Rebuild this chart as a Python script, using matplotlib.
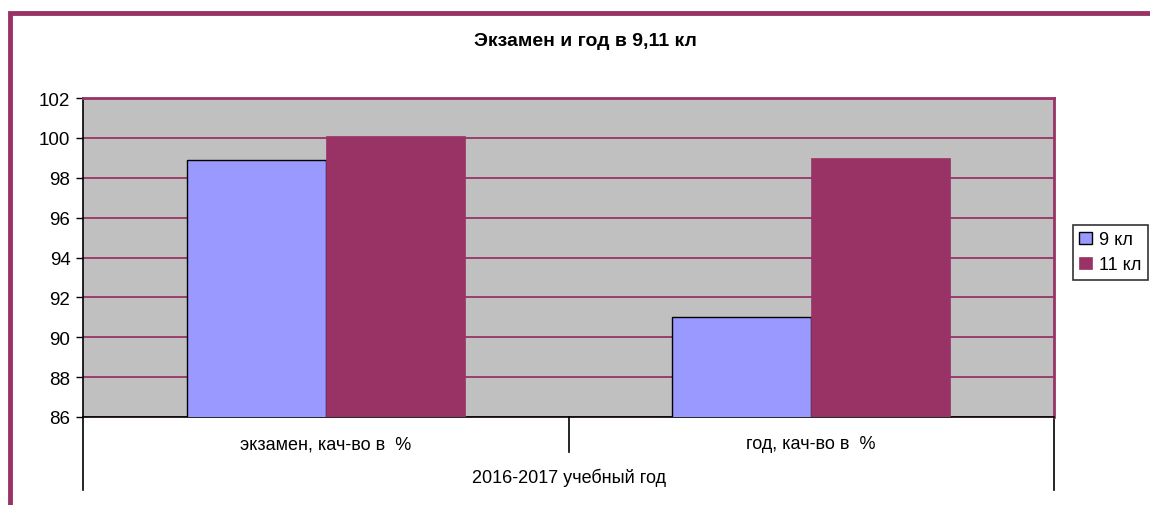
import matplotlib
matplotlib.use('Agg')
import matplotlib.pyplot as plt
from matplotlib.patches import Rectangle
from matplotlib.transforms import blended_transform_factory
import numpy as np

plt.rcParams['font.family'] = ['Liberation Sans', 'DejaVu Sans']

# data
categories = ['экзамен, кач-во в  %', 'год, кач-во в  %']
group_label = '2016-2017 учебный год'
series_names = ['9 кл', '11 кл']
values_9 = [98.9, 91.0]
values_11 = [100.1, 99.0]
title = 'Экзамен и год в 9,11 кл'

BLUE = '#9999FF'
PLUM = '#993366'
GRAY = '#C0C0C0'

W, H = 1150, 506
fig = plt.figure(figsize=(W / 100, H / 100), dpi=100)

# outer chart frame (runs past right and bottom edge like the original)
fig.patches.append(Rectangle((10 / W, -0.1), 1.2, 1.1 - 13.5 / H,
                             transform=fig.transFigure, fill=False,
                             edgecolor=PLUM, linewidth=3.5, zorder=0))

ax = fig.add_axes([83 / W, 1 - 418 / H, (1054 - 83) / W, (418 - 99) / H])
ax.set_facecolor(GRAY)

x = np.arange(len(categories))
bw = 0.286
ax.bar(x - bw / 2, values_9, width=bw, color=BLUE, edgecolor='black',
       linewidth=1.0, label=series_names[0], zorder=3)
ax.bar(x + bw / 2, values_11, width=bw, color=PLUM, edgecolor=PLUM,
       linewidth=0.5, label=series_names[1], zorder=3)

ax.set_xlim(-0.5, 1.5)
ax.set_ylim(86, 102)
ax.set_yticks(range(86, 103, 2))
ax.yaxis.grid(True, color=PLUM, linewidth=1.3, zorder=1)
ax.set_axisbelow(True)
ax.tick_params(axis='y', direction='out', length=5, width=1, colors='black',
               labelsize=13.5, pad=4)

ax.set_xticks(x)
ax.set_xticklabels(categories, fontsize=13)
ax.tick_params(axis='x', length=0, pad=13)

for side in ('top', 'right'):
    ax.spines[side].set_color(PLUM)
    ax.spines[side].set_linewidth(2)
for side in ('left', 'bottom'):
    ax.spines[side].set_color('black')
    ax.spines[side].set_linewidth(1.2)

# multi-level category separators
tr = blended_transform_factory(ax.transData, ax.transAxes)
ax.plot([0.5, 0.5], [0, -0.11], transform=tr, color='black', lw=1.2, clip_on=False)
for xe in (-0.5, 1.5):
    ax.plot([xe, xe], [0, -0.23], transform=tr, color='black', lw=1.2, clip_on=False)
ax.text(0.5, -0.188, group_label, transform=ax.transAxes, ha='center',
        va='center', fontsize=13)

fig.text(585 / W, 1 - 42 / H, title, ha='center', va='center',
         fontsize=14, fontweight='bold')

leg = fig.legend(loc='upper left', bbox_to_anchor=(1073 / W, 1 - 226 / H),
                 fontsize=13, frameon=True, fancybox=False,
                 handlelength=0.7, handleheight=0.7, handletextpad=0.4,
                 borderpad=0.35, labelspacing=0.45, borderaxespad=0)
leg.get_frame().set_edgecolor('black')
leg.get_frame().set_linewidth(1.2)

fig.savefig('out.png', dpi=100)
